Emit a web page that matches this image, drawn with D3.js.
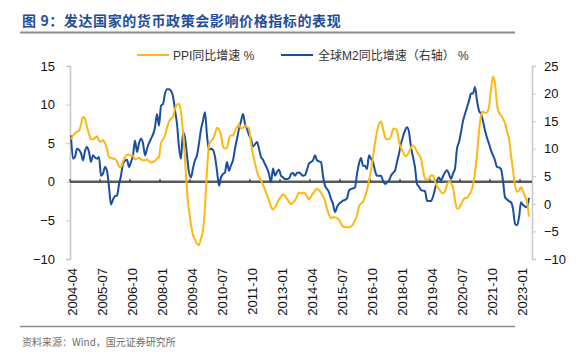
<!DOCTYPE html>
<html><head><meta charset="utf-8">
<script src="https://cdn.jsdelivr.net/npm/d3@7"></script>
<style>
body{margin:0;background:#fff;}
svg text{font-family:Arial,"Liberation Sans","Noto Sans CJK SC",sans-serif;}
</style></head>
<body><svg id="c" width="582" height="358"></svg>
<script>
const startYear = 2004, startMonth = 4;
const tickLabels = ["2004-04","2005-07","2006-10","2008-01","2009-04","2010-07","2011-10","2013-01","2014-04","2015-07","2016-10","2018-01","2019-04","2020-07","2021-10","2023-01"];
const leftTicks = [15,10,5,0,-5,-10];
const rightTicks = [25,20,15,10,5,0,-5,-10];
const ppi = [5.5,6.0,6.3,6.5,6.6,7.4,8.4,8.2,7.1,6.2,5.5,5.5,5.7,5.9,5.3,5.2,5.4,5.0,4.3,3.2,
3.1,3.0,3.0,2.6,2.0,1.9,2.6,3.2,3.5,3.5,3.4,3.4,2.9,3.0,3.1,2.9,2.8,2.8,2.9,2.7,
2.5,2.6,2.7,3.0,3.2,5.0,5.5,6.0,7.0,7.8,8.2,8.4,9.5,10.0,10.1,9.0,6.5,3.0,-1.2,-3.7,
-5.5,-6.9,-7.5,-8.0,-8.2,-7.3,-6.3,-3.2,1.5,4.7,5.3,5.6,6.2,7.0,6.8,6.0,4.6,4.3,4.4,5.6,
6.0,6.0,6.6,7.1,7.4,6.9,7.0,7.3,7.1,6.9,5.0,3.5,2.4,1.3,0.6,0.2,-0.4,-1.0,-1.7,-2.4,
-3.2,-3.6,-3.3,-2.8,-2.3,-1.9,-1.6,-1.8,-2.2,-2.6,-2.9,-2.7,-2.4,-1.9,-1.4,-1.5,-1.4,-1.5,-1.9,-2.3,
-1.9,-1.5,-1.1,-0.9,-1.1,-1.4,-1.9,-2.4,-3.5,-4.3,-4.7,-4.6,-4.6,-4.7,-4.9,-5.4,-5.8,-5.9,-5.9,-5.9,
-5.8,-5.5,-5.0,-4.4,-3.2,-2.8,-2.6,-1.9,-1.1,0.2,1.5,3.2,5.0,6.5,7.5,7.8,6.9,5.8,5.5,5.5,
5.9,6.8,6.9,6.6,5.2,4.4,3.9,3.3,3.4,3.9,4.4,4.75,4.4,3.9,3.5,3.0,1.6,0.4,0.3,0.4,
0.8,0.8,0.1,-0.6,-0.9,-1.3,-1.5,-1.2,-0.4,0.0,-0.2,-0.7,-2.4,-3.5,-3.4,-2.9,-2.4,-2.1,-2.1,-1.7,
-1.3,-0.4,1.2,3.5,6.5,8.6,9.1,8.9,9.0,9.7,11.9,13.6,12.7,10.0,9.0,8.6,8.2,7.6,6.5,5.6,
3.5,1.5,-0.4,-1.3,-1.1,-0.7,-1.2,-1.9,-2.6,-4.5];
const m2 = [12.4,8.2,8.5,10.0,9.8,9.2,7.9,9.6,10.3,9.4,7.6,8.8,8.4,8.2,8.5,5.1,5.5,6.7,6.0,3.0,
-0.1,0.8,1.4,1.5,3.5,5.1,7.3,7.8,8.0,6.7,7.6,8.8,11.5,9.4,11.0,11.8,11.0,8.8,10.0,11.0,
11.8,12.6,13.9,16.3,14.2,17.8,18.1,20.0,20.8,20.8,20.5,19.5,17.0,14.5,10.3,8.2,13.0,12.0,8.8,5.7,
4.8,6.5,7.9,8.8,11.0,13.5,15.1,16.6,12.4,9.8,10.0,9.8,8.5,6.0,3.3,4.8,5.4,5.7,7.6,6.0,
7.0,7.9,10.0,11.8,13.6,15.0,16.3,14.5,13.6,12.5,11.8,10.4,10.8,11.2,10.0,8.5,8.0,7.2,6.5,5.4,
3.9,6.4,5.1,5.8,6.2,5.1,4.8,4.5,4.5,4.6,5.4,5.6,5.1,5.6,5.7,5.4,5.1,5.2,6.2,7.3,
7.6,7.9,8.8,7.9,7.7,7.6,5.1,3.3,2.7,2.1,0.9,0.0,-1.5,-0.6,0.0,0.3,0.6,0.7,1.0,2.4,
2.7,2.8,3.0,5.4,7.3,8.3,6.9,6.9,6.3,8.8,8.2,7.6,6.0,5.1,5.1,5.1,4.2,3.6,3.9,4.2,
5.1,5.6,6.0,7.6,9.1,10.9,12.2,13.3,13.9,13.0,10.3,8.5,6.6,3.6,3.1,2.5,2.4,2.3,0.6,0.5,
0.5,1.3,2.7,4.2,4.8,4.2,5.0,5.7,6.1,5.4,4.5,5.5,6.4,10.0,11.2,13.0,15.0,16.3,17.5,18.7,
20.0,20.0,21.2,18.7,16.9,16.3,15.0,13.3,12.0,10.9,9.7,8.8,7.9,6.7,6.6,6.3,4.2,1.2,0.8,0.5,
0.3,-0.9,-3.6,-3.9,-2.5,0.3,-0.2,-0.5,-0.6,1.1];

const fmt = i => { const t = (startMonth - 1) + i; const y = startYear + Math.floor(t/12); const mo = t%12 + 1; return y + "-" + String(mo).padStart(2,"0"); };
const nCat = 231;
const categories = d3.range(nCat).map(fmt);

const svg = d3.select("#c");
const orange = "#FDB813", blue = "#1A4F9F";
const L = 70, R = 532, T = 66, B = 259;

const x = d3.scaleBand().domain(categories).range([L, R]);
const yL = d3.scaleLinear().domain([-10, 15]).range([B, T]);
const yR = d3.scaleLinear().domain([-10, 25]).range([B, T]);

// title
svg.append("text").attr("x", 22).attr("y", 26).attr("fill", "#1F4E9A")
  .style("font-family", "'Noto Sans CJK SC',sans-serif").style("font-weight", "bold")
  .style("font-size", "14px").style("letter-spacing", "0.6px")
  .text("图 9：发达国家的货币政策会影响价格指标的表现");
svg.append("line").attr("x1", 20).attr("x2", 515).attr("y1", 32.5).attr("y2", 32.5)
  .attr("stroke", "#8c8c8c").attr("stroke-width", 2);
svg.append("line").attr("x1", 20).attr("x2", 515).attr("y1", 326.5).attr("y2", 326.5)
  .attr("stroke", "#8c8c8c").attr("stroke-width", 1.5);
svg.append("text").attr("x", 22).attr("y", 346).attr("fill", "#6e6e6e")
  .style("font-family", "'Noto Sans CJK SC',sans-serif").style("font-size", "10px")
  .text("资料来源：Wind，国元证券研究所");

// left axis
const gl = svg.append("g").attr("transform", `translate(${L},0)`)
  .call(d3.axisLeft(yL).tickValues(leftTicks).tickSize(4).tickPadding(11).tickFormat(d3.format("d")));
gl.select(".domain").attr("stroke", "#c8c8c8").attr("stroke-width", 1.5);
gl.selectAll(".tick line").attr("stroke", "#c8c8c8");
gl.selectAll("text").style("font-size", "13px").attr("fill", "#111");

const gr = svg.append("g").attr("transform", `translate(${R},0)`)
  .call(d3.axisRight(yR).tickValues(rightTicks).tickSize(4).tickPadding(8).tickFormat(d3.format("d")));
gr.select(".domain").attr("stroke", "#c8c8c8").attr("stroke-width", 1.5);
gr.selectAll(".tick line").attr("stroke", "#c8c8c8");
gr.selectAll("text").style("font-size", "13px").attr("fill", "#111");

// x axis at zero
const gx = svg.append("g").attr("transform", `translate(0,${yL(0)})`)
  .call(d3.axisTop(x).tickValues(tickLabels).tickSize(3).tickFormat(""));
gx.select(".domain").attr("stroke", "#5a5a5a").attr("stroke-width", 2.5).attr("d", `M${L},0H${R}`);
gx.selectAll(".tick").attr("transform", d => `translate(${x(d)},0)`);
gx.selectAll(".tick line").attr("stroke", "#222").attr("stroke-width", 1);

// bottom labels
svg.append("g").selectAll("text").data(tickLabels).join("text")
  .attr("transform", d => `translate(${x(d) + 2},${B + 9}) rotate(-90)`)
  .attr("text-anchor", "end").attr("dy", "0.35em")
  .style("font-size", "13px").attr("fill", "#111").text(d => d);

// lines
const cx = i => x(categories[i]) + x.bandwidth()/2;
svg.append("path").datum(m2).attr("fill", "none").attr("stroke", blue).attr("stroke-width", 2)
  .attr("stroke-linejoin", "round")
  .attr("d", d3.line().x((d,i) => cx(i)).y(d => yR(d)).curve(d3.curveMonotoneX));
svg.append("path").datum(ppi).attr("fill", "none").attr("stroke", orange).attr("stroke-width", 2)
  .attr("stroke-linejoin", "round")
  .attr("d", d3.line().x((d,i) => cx(i)).y(d => yL(d)).curve(d3.curveMonotoneX));
// redraw blue over orange partially? keep order: orange on top in reference? 

// legend
const lg = svg.append("g").style("font-family", "Arial,'Noto Sans CJK SC',sans-serif").style("font-size", "12px");
lg.append("line").attr("x1", 137).attr("x2", 169).attr("y1", 55).attr("y2", 55).attr("stroke", orange).attr("stroke-width", 2);
lg.append("text").attr("x", 173).attr("y", 59.5).attr("fill", "#333").text("PPI同比增速 %");
lg.append("line").attr("x1", 281).attr("x2", 313).attr("y1", 55).attr("y2", 55).attr("stroke", blue).attr("stroke-width", 2);
lg.append("text").attr("x", 318).attr("y", 59.5).attr("fill", "#333").text("全球M2同比增速（右轴） %");
</script></body></html>
